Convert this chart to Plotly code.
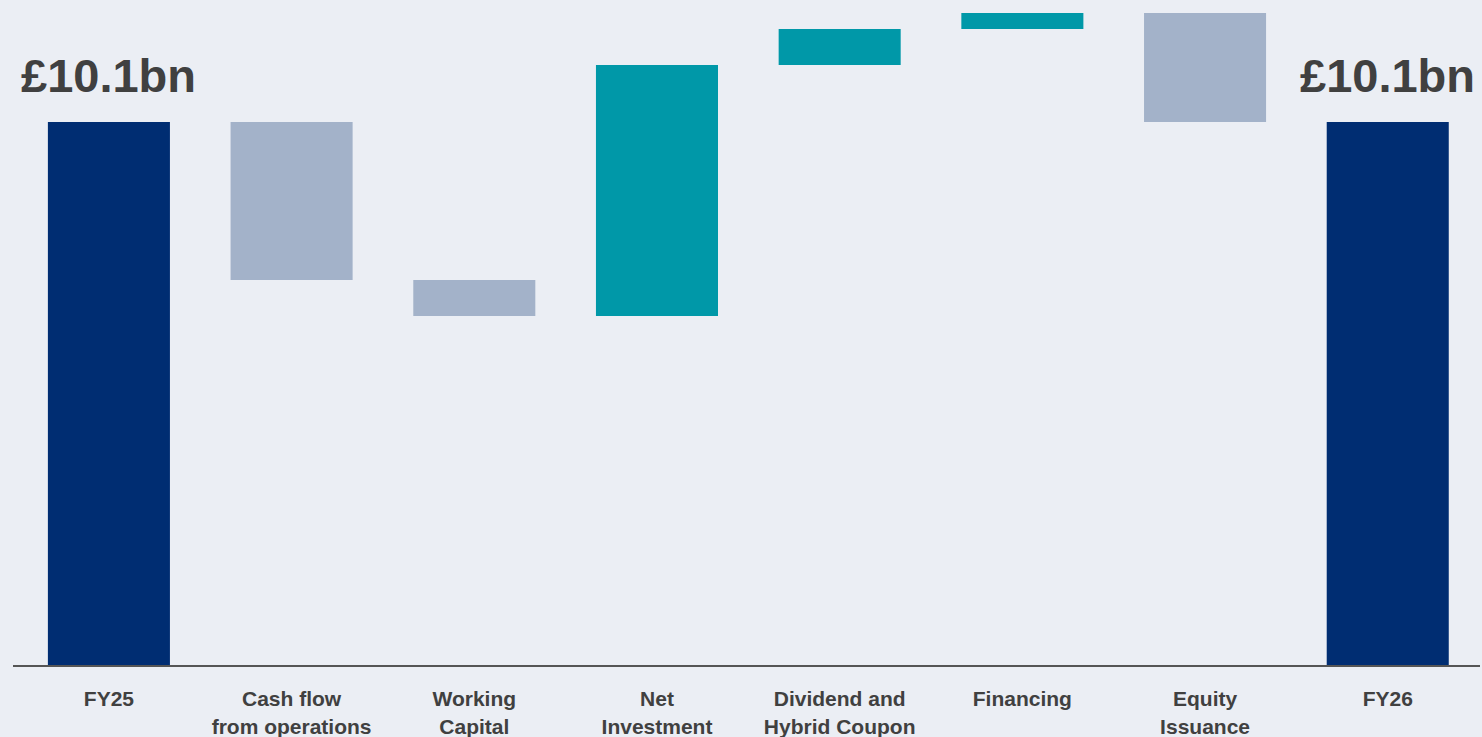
import plotly.graph_objects as go

# net debt bridge, £bn
categories = ['FY25', 'Cash flow<br>from operations', 'Working<br>Capital', 'Net<br>Investment',
              'Dividend and<br>Hybrid Coupon', 'Financing', 'Equity<br>Issuance', 'FY26']
values = [10.1, -2.94, -0.67, 4.67, 0.67, 0.30, -2.03, 10.1]
measures = ['absolute', 'relative', 'relative', 'relative', 'relative', 'relative', 'relative', 'absolute']
end_labels = ['£10.1bn', '£10.1bn']

bg = '#EBEEF4'
navy = '#002D72'
teal = '#0098A8'
greyblue = '#A3B2C9'
txt = '#404040'

xs = list(range(len(categories)))

fig = go.Figure()
fig.add_trace(go.Waterfall(
    x=xs, y=values, measure=measures,
    width=0.668,
    increasing=dict(marker=dict(color=teal, line=dict(width=0))),
    decreasing=dict(marker=dict(color=greyblue, line=dict(width=0))),
    totals=dict(marker=dict(color=navy, line=dict(width=0))),
    connector=dict(visible=False),
    hoverinfo='skip',
))

# big labels over the two totals
for xi, lab in zip([xs[0], xs[-1]], end_labels):
    yi = values[0] if xi == 0 else values[-1]
    fig.add_annotation(x=xi, y=yi, text='<b>' + lab + '</b>', showarrow=False,
                       yanchor='bottom', yshift=18,
                       font=dict(family='Liberation Sans, Arial', size=47, color=txt))

fig.update_layout(
    width=1482, height=737,
    margin=dict(l=13, r=2, t=0, b=72),
    paper_bgcolor=bg, plot_bgcolor=bg,
    showlegend=False,
    xaxis=dict(range=[-0.525, 7.505], tickmode='array', tickvals=xs,
               ticktext=['<b>' + c + '</b>' for c in categories],
               showline=True, linecolor='#555555', linewidth=2,
               showgrid=False, zeroline=False, ticks='',
               tickfont=dict(family='Liberation Sans, Arial', size=21, color=txt),
               ticklabelstandoff=14),
    yaxis=dict(range=[0, 12.37], visible=False, showgrid=False, zeroline=False),
)

# drop the browser's default page margin so the chart fills the window
fig.write_html("out.html", config={'displayModeBar': False},
               post_script="document.body.style.margin='0';")
